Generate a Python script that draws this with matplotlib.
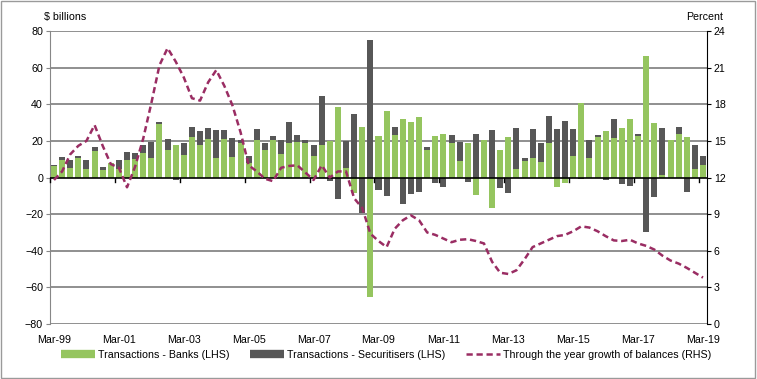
import matplotlib
matplotlib.use("Agg")
import matplotlib.pyplot as plt
import numpy as np
from matplotlib.patches import Rectangle
from matplotlib.lines import Line2D

plt.rcParams['font.family'] = ['Liberation Sans', 'DejaVu Sans']

# quarterly, Mar-99 .. Mar-19
years = list(range(1999, 2020))
quarters = [f"{m}-{str(y)[2:]}" for y in years for m in ["Mar", "Jun", "Sep", "Dec"]][:81]

banks = [6.1, 9.3, 5.0, 10.5, 4.4, 14.7, 3.9, 7.7, 4.4, 9.4,
         9.9, 13.2, 10.5, 29.4, 15.3, 18.0, 12.1, 22.3, 17.5, 21.3,
         10.5, 21.3, 11.0, 19.1, 7.7, 20.7, 15.3, 20.7, 12.6, 18.6,
         19.6, 18.6, 11.5, 18.0, 20.2, 38.6, 5.0, -8.3, 27.7, -65.0,
         22.9, 36.4, 23.4, 32.1, 30.5, 33.2, 14.8, 22.9, 24.0, 18.6,
         8.8, 18.6, -9.4, 20.7, -16.9, 14.8, 22.3, 4.5, 8.8, 10.5,
         8.3, 19.1, -5.0, -2.9, 11.5, 40.7, 10.5, 22.3, 25.6, 21.8,
         27.2, 32.1, 22.9, 66.1, 29.9, 1.3, 20.7, 24.0, 22.3, 4.5,
         6.7]

securitisers = [1.0, 2.1, 4.3, 1.0, 5.0, 2.1, 2.1, 0.0, 5.4, 4.3,
                3.3, 4.3, 9.1, 1.1, 6.0, -1.4, 6.5, 5.4, 8.1, 5.9,
                15.6, 4.8, 10.8, 1.6, 3.8, 6.0, 3.8, 2.2, 8.1, 11.9,
                3.8, 2.1, 6.0, 26.5, -1.8, -11.5, 14.8, 34.8, -19.5, 75.3,
                -6.7, -9.9, 4.3, -14.2, -8.8, -7.7, 2.1, -2.9, -5.0, 4.8,
                10.8, -2.3, 24.0, 0.0, 26.1, -5.6, -8.3, 22.7, 1.7, 16.2,
                10.3, 14.6, 26.7, 31.0, 15.2, -0.7, 10.2, 1.1, -1.3, 10.3,
                -3.4, -4.5, 1.1, -29.8, -10.8, 25.9, 0.0, 3.7, -7.7, 13.5,
                4.8]

growth = [11.8, 12.5, 13.9, 14.6, 15.0, 16.3, 14.6, 13.1, 12.8, 11.2,
          12.9, 15.2, 18.1, 21.2, 22.6, 21.5, 20.2, 18.5, 18.3, 19.8,
          20.8, 19.5, 17.9, 15.7, 13.0, 12.5, 11.9, 11.7, 12.8, 12.95,
          13.0, 12.4, 11.8, 13.0, 12.0, 12.5, 12.5, 10.3, 9.5, 7.4,
          6.8, 6.3, 7.8, 8.5, 8.9, 8.5, 7.5, 7.3, 7.0, 6.7,
          6.9, 6.95, 6.8, 6.6, 5.1, 4.2, 4.1, 4.4, 5.3, 6.3,
          6.6, 6.9, 7.2, 7.3, 7.6, 8.0, 7.9, 7.6, 7.2, 6.85,
          6.8, 6.9, 6.6, 6.4, 6.1, 5.6, 5.2, 4.95, 4.6, 4.2,
          3.8]

green = '#95C55F'
dark = '#575757'
maroon = '#9A2D63'
grid = '#878787'

b = np.array(banks)
s = np.array(securitisers)
x = np.arange(len(b))
# Excel-style stacking: same-sign parts stack, opposite signs start at zero
bottom = np.where(np.sign(s) == np.sign(b), b, 0)

fig = plt.figure(figsize=(7.57, 3.79), dpi=100)
fig.patches.append(Rectangle((0.001, 0.003), 0.997, 0.995, transform=fig.transFigure,
                             fill=False, edgecolor='#9a9a9a', linewidth=1))
ax = fig.add_axes([0.066, 0.1451, 0.868, 0.773])

for yv in range(-60, 81, 20):
    if yv != 0:
        ax.axhline(yv, color=grid, linewidth=1.3, zorder=0)
ax.axhline(-80, color=grid, linewidth=1.3, zorder=0)

ax.bar(x, b, width=0.74, color=green, zorder=2)
ax.bar(x, s, width=0.74, bottom=bottom, color=dark, zorder=2)
ax.axhline(0, color='black', linewidth=1.2, zorder=3)

ax.set_xlim(-0.5, len(b) - 0.5)
ax.set_ylim(-80, 80)
ax.set_yticks(range(-80, 81, 20))
ax.tick_params(axis='y', labelsize=7.7, length=3, color=grid, pad=2)
ax.set_xticks(x[::8])
ax.set_xticklabels(quarters[::8], fontsize=7.7)
ax.tick_params(axis='x', length=0, pad=8)
for xt in np.arange(-0.5, len(b), 8):
    ax.plot([xt, xt], [0, -2.5], color='black', linewidth=1, zorder=3, clip_on=False)

for side in ['top', 'bottom']:
    ax.spines[side].set_visible(False)
ax.spines['left'].set_color(grid)
ax.spines['right'].set_visible(False)

ax2 = ax.twinx()
ax2.plot(x, growth, color=maroon, linewidth=1.8, linestyle=(0, (2.5, 1.5)), zorder=4)
ax2.set_ylim(0, 24)
ax2.set_yticks(range(0, 25, 3))
ax2.tick_params(axis='y', labelsize=7.7, length=3, pad=2)
for side in ['top', 'bottom', 'left']:
    ax2.spines[side].set_visible(False)
ax2.spines['right'].set_color('black')

fig.text(0.058, 0.955, '$ billions', fontsize=7.7, ha='left', va='center')
fig.text(0.955, 0.955, 'Percent', fontsize=7.7, ha='right', va='center')

handles = [Line2D([], [], color=green, linewidth=6, solid_capstyle='butt'),
           Line2D([], [], color=dark, linewidth=6, solid_capstyle='butt'),
           Line2D([], [], color=maroon, linewidth=1.8, linestyle=(0, (2.5, 1.5)))]
labels = ['Transactions - Banks (LHS)', 'Transactions - Securitisers (LHS)',
          'Through the year growth of balances (RHS)']
fig.legend(handles, labels, loc='center', bbox_to_anchor=(0.51, 0.063), ncol=3,
           frameon=False, fontsize=7.7, handlelength=3.2, handletextpad=0.3,
           columnspacing=1.9)

fig.savefig('out.png', dpi=100)
